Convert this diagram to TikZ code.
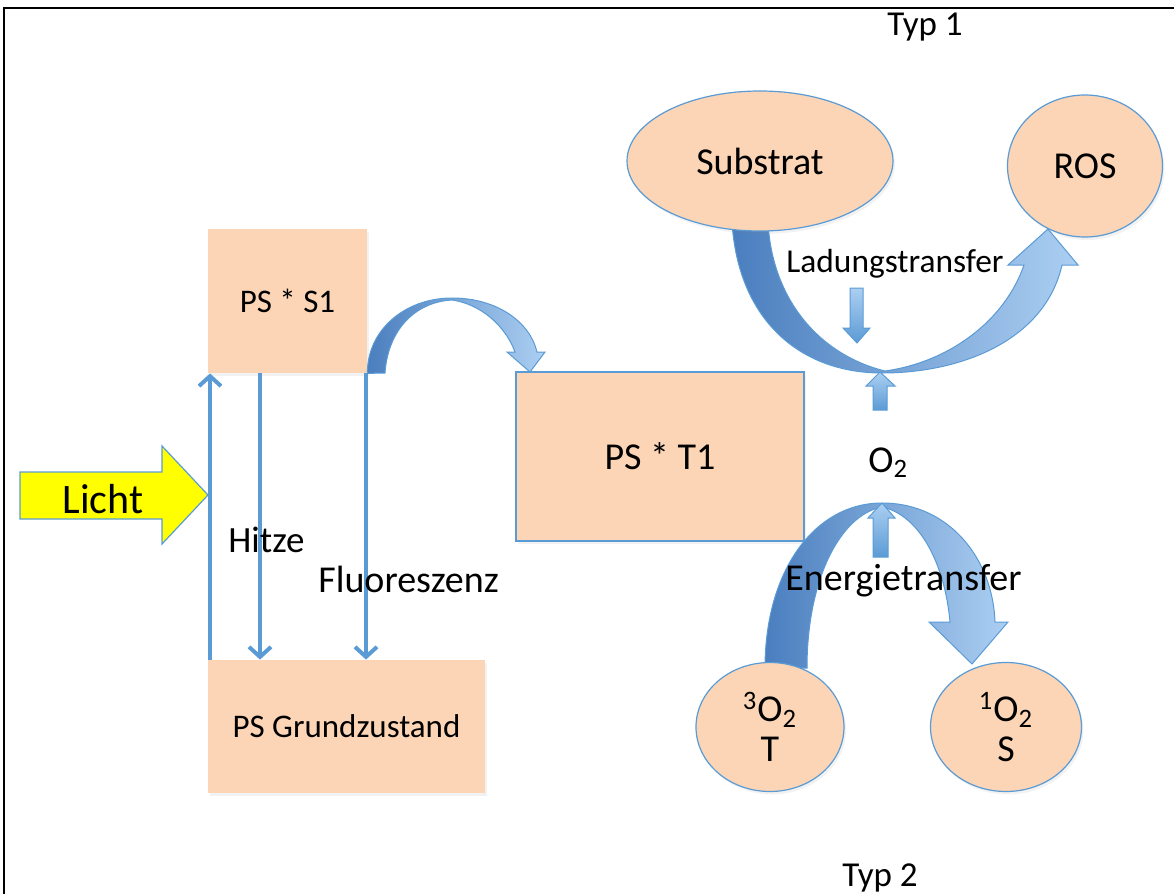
\documentclass[tikz,border=0pt]{standalone}
\usepackage{fontspec}
\setmainfont{Carlito}
\usetikzlibrary{arrows.meta,shapes.geometric,shadows}

\definecolor{psorange}{RGB}{251,213,181}
\definecolor{psblue}{RGB}{91,155,213}
\definecolor{psdark}{RGB}{74,126,190}
\definecolor{pslight}{RGB}{172,207,242}
\definecolor{lichtyellow}{RGB}{255,255,0}

\begin{document}
\begin{tikzpicture}[x=0.5pt, y=-0.5pt,
    statebox/.style={rectangle, fill=psorange, inner sep=0pt, drop shadow={opacity=0.1, shadow xshift=1pt, shadow yshift=-1.5pt}},
    molecule/.style={ellipse, fill=psorange, draw=psblue, line width=0.6pt, inner sep=0pt, align=center, font=\fontsize{19}{20}\selectfont, drop shadow={opacity=0.1, shadow xshift=1pt, shadow yshift=-1.5pt}},
    plaintext/.style={inner sep=0pt, anchor=base west},
    thinarrow/.style={-{Straight Barb[length=5pt, width=11pt]}, draw=psblue, line width=2pt},
    bendarrow/.style={left color=psdark, right color=pslight, draw=psblue, line width=0.5pt},
    smallarrow/.style={top color=pslight, bottom color=psblue, draw=psblue, line width=0.5pt}
]
    \useasboundingbox (0,0) rectangle (1174,894);
    \draw[line width=1pt] (4,894) -- (4,8) -- (1174,8);

    % Zustaende des Photosensibilisators
    \node[statebox, minimum width=79.5pt, minimum height=72pt, font=\fontsize{16.5}{19}\selectfont] (s1) at (287.5,301) {PS * S1};
    \node[statebox, minimum width=138.5pt, minimum height=66.5pt, font=\fontsize{16.5}{19}\selectfont] (ground) at (346.5,726.5) {PS Grundzustand};
    \node[statebox, draw=psblue, line width=0.8pt, minimum width=144pt, minimum height=84.5pt, font=\fontsize{19}{22}\selectfont] (t1) at (660,456.5) {PS * T1};

    % Licht
    \filldraw[fill=lichtyellow, draw=psblue, line width=0.6pt] (20,472) -- (162,472) -- (162,446) -- (208,495) -- (162,544) -- (162,519) -- (20,519) -- cycle;
    \node[plaintext, font=\fontsize{21}{24}\selectfont] (licht) at (62,513) {Licht};

    % Uebergaenge
    \draw[thinarrow] (210,0 |- ground.north) -- (210,0 |- s1.south);
    \draw[thinarrow] (260,0 |- s1.south) -- (260,0 |- ground.north);
    \draw[thinarrow] (366,0 |- s1.south) -- (366,0 |- ground.north);
    \node[plaintext, font=\fontsize{18.5}{22}\selectfont] (hitze) at (228,552) {Hitze};
    \node[plaintext, font=\fontsize{19}{22}\selectfont] (fluoreszenz) at (318,592) {Fluoreszenz};

    % Intersystem crossing S1 -> T1
    \shade[bendarrow] (s1.south east) .. controls (367,330) and (405,298) .. (452,298) .. controls (497,298) and (530,322) .. (537,352) -- (545,352) -- (530,372) -- (507,352) -- (515,352) .. controls (505,325) and (480,304) .. (452,300) .. controls (415,302) and (388,330) .. (385,373) -- cycle;

    % Typ 1
    \shade[bendarrow] (732,222) .. controls (738,320) and (800,373) .. (882,373) .. controls (962,373) and (1045,340) .. (1062,265) -- (1078,265) -- (1048,229) -- (1008,265) -- (1024,265) .. controls (1005,320) and (950,362) .. (885,371) .. controls (820,355) and (772,300) .. (768,222) -- cycle;
    \shade[smallarrow] (850,288) -- (863,288) -- (863,328) -- (870,328) -- (857,343) -- (843,328) -- (850,328) -- cycle;
    \shade[smallarrow] (873,410) -- (873,386) -- (866,386) -- (880,372) -- (895,386) -- (887,386) -- (887,410) -- cycle;
    \node[plaintext, font=\fontsize{16.7}{20}\selectfont] (ladung) at (786,272) {Ladungstransfer};
    \node[plaintext, font=\fontsize{19}{22}\selectfont] (sauerstoff) at (868,472) {O\textsubscript{2}};

    % Typ 2
    \shade[bendarrow] (765,668) .. controls (765,570) and (815,503) .. (882,503) .. controls (950,503) and (993,560) .. (995,622) -- (1008,622) -- (972,664) -- (929,622) -- (950,622) .. controls (945,565) and (920,515) .. (882,507) .. controls (840,515) and (807,580) .. (807,668) -- cycle;
    \shade[smallarrow] (873,557) -- (873,518) -- (868,518) -- (882,503) -- (895,518) -- (888,518) -- (888,557) -- cycle;
    \node[plaintext, font=\fontsize{19}{22}\selectfont] (energie) at (785,590) {Energietransfer};

    % Reaktionspartner
    \node[molecule, minimum width=133pt, minimum height=70pt] (substrat) at (760,161) {Substrat};
    \node[molecule, minimum width=77.5pt, minimum height=71pt] (ros) at (1085,166) {ROS};
    \node[molecule, minimum width=74pt, minimum height=64.5pt] (triplett) at (770,727) {\textsuperscript{3}O\textsubscript{2}\\T};
    \node[molecule, minimum width=75.5pt, minimum height=64.5pt] (singulett) at (1006,727) {\textsuperscript{1}O\textsubscript{2}\\S};

    \node[plaintext, font=\fontsize{17.5}{20}\selectfont] (typeins) at (887,35) {Typ 1};
    \node[plaintext, font=\fontsize{17.5}{20}\selectfont] (typzwei) at (842,886) {Typ 2};
\end{tikzpicture}
\end{document}
